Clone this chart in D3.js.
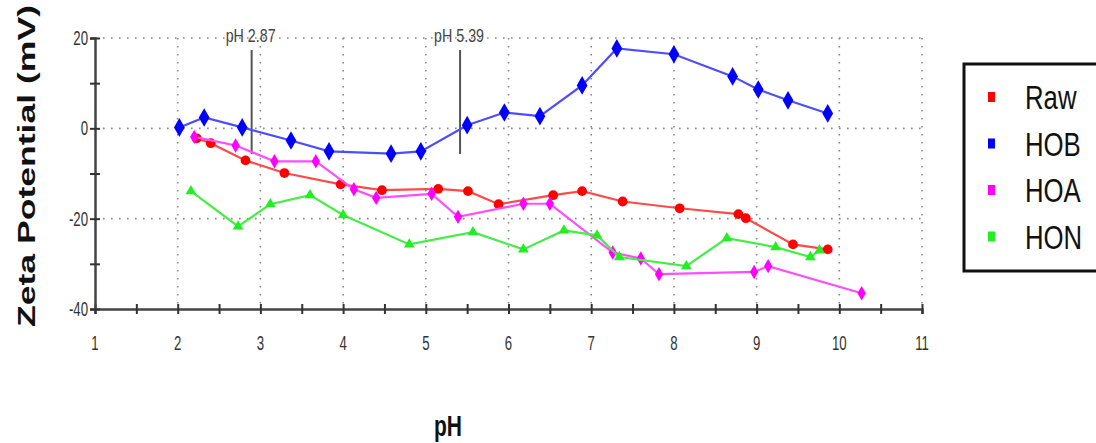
<!DOCTYPE html>
<html>
<head>
<meta charset="utf-8">
<script src="https://cdnjs.cloudflare.com/ajax/libs/d3/7.8.5/d3.min.js"></script>
<style>
  body { margin: 0; background: #fff; }
  svg { display: block; }
  .tick-label { font-family: "Liberation Sans", Arial, sans-serif; font-size: 20px; fill: #333; }
</style>
</head>
<body>
<svg id="chart" width="1096" height="443"></svg>
<script>
// data
var seriesNames = ['Raw', 'HOB', 'HOA', 'HON'];
var seriesColors = ['#ff0000', '#0000ff', '#ff00ff', '#22ee22'];
var lineColors = ['#ff4a4a', '#4d4dff', '#ff4dff', '#44ee44'];

var rawPH  = [2.23, 2.40, 2.82, 3.29, 3.97, 4.47, 5.15, 5.51, 5.88, 6.54, 6.89, 7.38, 8.07, 8.78, 8.87, 9.44, 9.86];
var rawZP  = [-2.2, -3.3, -7.1, -9.9, -12.4, -13.7, -13.4, -13.9, -16.8, -14.8, -13.9, -16.2, -17.7, -19.0, -19.9, -25.7, -26.8];

var hobPH  = [2.02, 2.32, 2.78, 3.37, 3.83, 4.58, 4.94, 5.50, 5.95, 6.38, 6.89, 7.31, 8.00, 8.71, 9.02, 9.38, 9.86];
var hobZP  = [0.2, 2.4, 0.2, -2.7, -5.1, -5.6, -5.1, 0.7, 3.5, 2.7, 9.5, 17.7, 16.4, 11.5, 8.6, 6.2, 3.3];

var hoaPH  = [2.20, 2.70, 3.17, 3.67, 4.13, 4.40, 5.07, 5.39, 6.18, 6.50, 7.26, 7.60, 7.82, 8.97, 9.14, 10.27];
var hoaZP  = [-1.9, -3.8, -7.3, -7.3, -13.5, -15.4, -14.5, -19.6, -16.7, -16.7, -27.5, -28.8, -32.3, -31.8, -30.5, -36.5];

var honPH  = [2.16, 2.73, 3.12, 3.60, 4.00, 4.80, 5.57, 6.18, 6.67, 7.07, 7.34, 8.15, 8.64, 9.23, 9.65, 9.76];
var honZP  = [-13.9, -21.7, -16.8, -14.8, -19.2, -25.7, -23.0, -26.8, -22.6, -23.7, -28.5, -30.5, -24.3, -26.3, -28.5, -27.0];

var xTicks = [1, 2, 3, 4, 5, 6, 7, 8, 9, 10, 11];
var yTicks = [-40, -20, 0, 20];
var markLines = [2.87, 5.39];
var markLabels = ['pH 2.87', 'pH 5.39'];

var svg = d3.select('#chart');
var x = d3.scaleLinear().domain([1, 11]).range([95, 922]);
var y = d3.scaleLinear().domain([-40, 20]).range([309, 38]);

drawGrid();
drawAxes();
drawMarks();
drawSeries();
drawLabels();
drawLegend();

// squeeze text horizontally, the original uses a condensed face
function narrow(sel, f){
    sel.each(function(){
        var w = this.getComputedTextLength();
        d3.select(this).attr('textLength', w * f).attr('lengthAdjust', 'spacingAndGlyphs');
    });
}

function drawGrid(){
    var g = svg.append('g').attr('class', 'grid');
    g.selectAll('line.vgrid').data(xTicks.slice(1)).enter()
        .append('line')
        .attr('x1', function(d){ return x(d); })
        .attr('x2', function(d){ return x(d); })
        .attr('y1', y(20)).attr('y2', y(-40))
        .style('stroke', '#888')
        .style('stroke-width', 1.6)
        .style('stroke-dasharray', '1.6,6.4');
    g.selectAll('line.hgrid').data(yTicks.slice(1)).enter()
        .append('line')
        .attr('y1', function(d){ return y(d); })
        .attr('y2', function(d){ return y(d); })
        .attr('x1', x(1)).attr('x2', x(11))
        .style('stroke', '#888')
        .style('stroke-width', 1.6)
        .style('stroke-dasharray', '1.6,6.4');
}

function drawAxes(){
    var xAxis = svg.append('g')
        .attr('transform', 'translate(0,' + y(-40) + ')')
        .call(d3.axisBottom(x).tickValues(d3.range(1, 11.01, 0.5)).tickSize(5).tickFormat(''));
    xAxis.selectAll('.tick line').attr('y1', -5).style('stroke', '#333').style('stroke-width', 2);
    xAxis.select('.domain').style('stroke', '#444').style('stroke-width', 2.5);

    var yAxis = svg.append('g')
        .attr('transform', 'translate(' + x(1) + ',0)')
        .call(d3.axisLeft(y).tickValues(d3.range(-40, 20.01, 10)).tickSize(5).tickFormat(''));
    yAxis.selectAll('.tick line').attr('x1', 5).style('stroke', '#333').style('stroke-width', 2);
    yAxis.select('.domain').style('stroke', '#444').style('stroke-width', 2.5);

    // tick labels
    var xl = svg.selectAll('text.xtl').data(xTicks).enter()
        .append('text')
        .attr('class', 'tick-label')
        .attr('x', function(d){ return x(d); })
        .attr('y', 350)
        .attr('text-anchor', 'middle')
        .text(function(d){ return d; });
    narrow(xl, 0.66);
    var yl = svg.selectAll('text.ytl').data(yTicks).enter()
        .append('text')
        .attr('class', 'tick-label')
        .attr('x', x(1) - 7)
        .attr('y', function(d){ return y(d) + 7; })
        .attr('text-anchor', 'end')
        .text(function(d){ return d; });
    narrow(yl, 0.66);
}

function drawMarks(){
    svg.selectAll('line.mark').data(markLines).enter()
        .append('line')
        .attr('x1', function(d){ return x(d) + 2; })
        .attr('x2', function(d){ return x(d) + 2; })
        .attr('y1', 50).attr('y2', 154)
        .style('stroke', '#555')
        .style('stroke-width', 2);
    var ml = svg.selectAll('text.mark').data(markLabels).enter()
        .append('text')
        .attr('class', 'tick-label')
        .attr('x', function(d, i){ return x(markLines[i]) + 1; })
        .attr('y', 42)
        .attr('text-anchor', 'middle')
        .style('fill', '#444')
        .style('font-size', '19px')
        .text(function(d){ return d; });
    narrow(ml, 0.75);
}

function drawSeries(){
    var all = [[rawPH, rawZP], [hobPH, hobZP], [hoaPH, hoaZP], [honPH, honZP]];
    var shapes = [d3.symbolCircle, d3.symbolDiamond, d3.symbolDiamond, d3.symbolTriangle];
    var sizes = [75, 100, 60, 50];
    var line = d3.line()
        .x(function(d){ return x(d[0]); })
        .y(function(d){ return y(d[1]); });

    all.forEach(function(s, i){
        var pts = s[0].map(function(p, j){ return [p, s[1][j]]; });
        svg.append('path')
            .datum(pts)
            .attr('d', line)
            .style('fill', 'none')
            .style('stroke', lineColors[i])
            .style('stroke-width', 2.2);
        svg.selectAll('path.pt' + i).data(pts).enter()
            .append('path')
            .attr('class', 'pt' + i)
            .attr('transform', function(d){ return 'translate(' + x(d[0]) + ',' + y(d[1]) + ')'; })
            .attr('d', d3.symbol().type(shapes[i]).size(sizes[i]))
            .style('fill', seriesColors[i]);
    });
}

function drawLabels(){
    svg.append('text')
        .attr('transform', 'translate(35,327) rotate(-90)')
        .attr('textLength', 322)
        .attr('lengthAdjust', 'spacingAndGlyphs')
        .style('font-family', '"Liberation Sans", Arial, sans-serif')
        .style('font-weight', 'bold')
        .style('font-size', '24px')
        .style('fill', '#111')
        .text('Zeta Potential (mV)');
    var xt = svg.append('text')
        .attr('x', 448)
        .attr('y', 436)
        .attr('text-anchor', 'middle')
        .style('font-family', '"Liberation Sans", Arial, sans-serif')
        .style('font-weight', 'bold')
        .style('font-size', '30px')
        .style('fill', '#111')
        .text('pH');
    narrow(xt, 0.7);
}

function drawLegend(){
    var g = svg.append('g').attr('class', 'legend');
    // the box runs past the right edge of the picture
    g.append('rect')
        .attr('x', 964).attr('y', 64)
        .attr('width', 140).attr('height', 207)
        .style('fill', '#fff')
        .style('stroke', '#111')
        .style('stroke-width', 3);
    var rows = g.selectAll('g.row').data(seriesNames).enter()
        .append('g')
        .attr('transform', function(d, i){ return 'translate(0,' + (97 + i * 46.5) + ')'; });
    rows.append('rect')
        .attr('x', 988).attr('y', -5)
        .attr('width', 7).attr('height', 10)
        .style('fill', function(d, i){ return seriesColors[i]; });
    // condensed look through a horizontal scale
    rows.append('text')
        .attr('transform', 'translate(1025,12) scale(0.78,1)')
        .style('font-family', '"Liberation Sans", Arial, sans-serif')
        .style('font-size', '33px')
        .style('fill', '#111')
        .text(function(d){ return d; });
}
</script>
</body>
</html>
